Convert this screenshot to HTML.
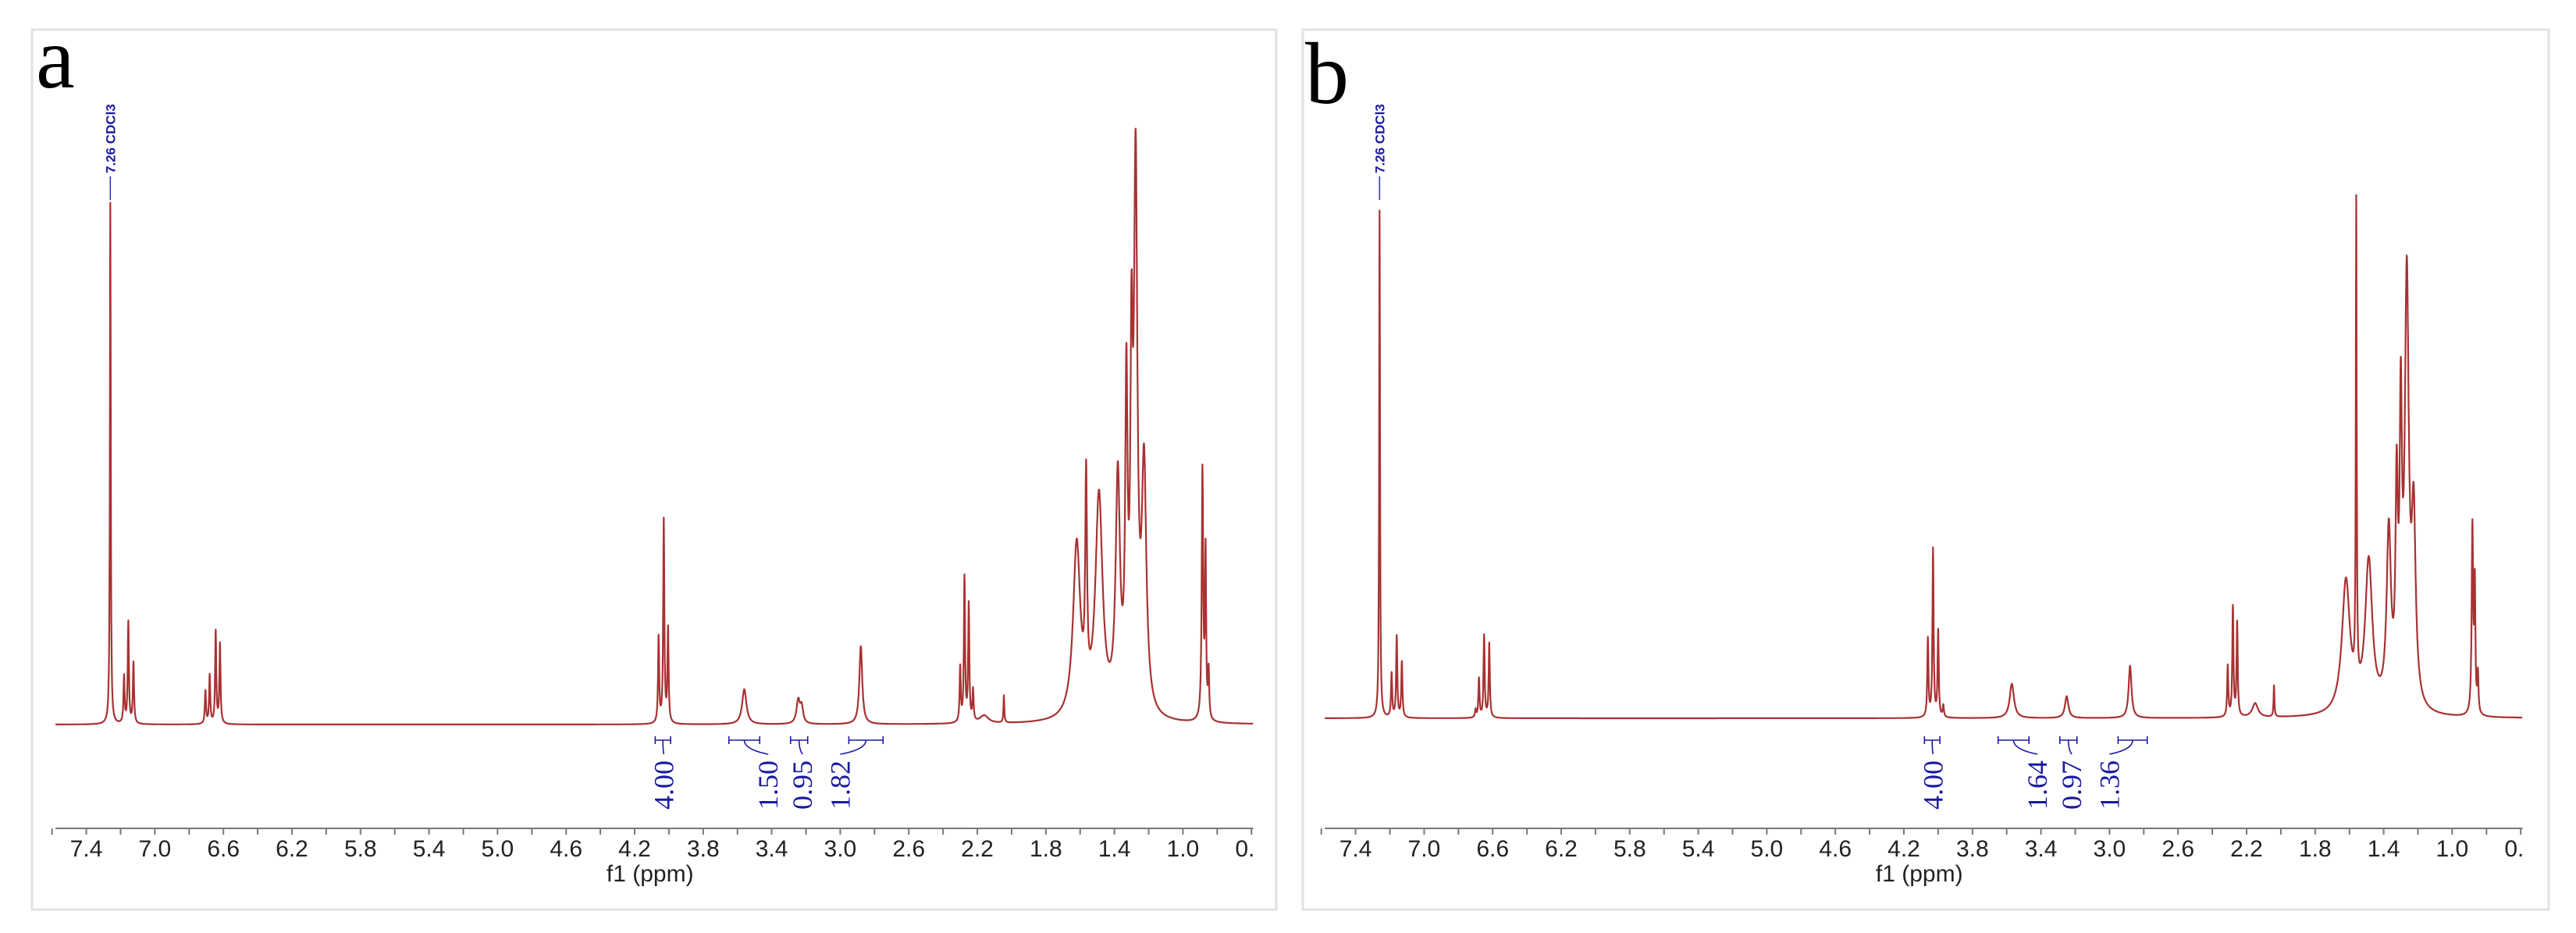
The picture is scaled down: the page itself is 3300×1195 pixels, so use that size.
<!DOCTYPE html>
<html><head><meta charset="utf-8">
<style>
html,body{margin:0;padding:0;background:#fff;}
svg{display:block;}
</style></head>
<body>
<svg id="fig" width="3300" height="1195" viewBox="0 0 3300 1195" xmlns="http://www.w3.org/2000/svg">
<defs>
<clipPath id="clipA"><rect x="40" y="30" width="1568" height="1140"/></clipPath>
<clipPath id="clipB"><rect x="1667" y="30" width="1568" height="1140"/></clipPath>
</defs>
<rect x="41" y="38" width="1594" height="1127" fill="#fff" stroke="#e2e2e2" stroke-width="3"/>
<rect x="1669" y="38" width="1596" height="1127" fill="#fff" stroke="#e2e2e2" stroke-width="3"/>
<text x="46" y="112" font-family="Liberation Serif, serif" font-size="112" fill="#000">a</text>
<text x="1672" y="132" font-family="Liberation Serif, serif" font-size="112" fill="#000">b</text>
<g id="layer"></g>
</svg>
<script>
// ---- data ----
const tickValues = [7.6,7.4,7.2,7.0,6.8,6.6,6.4,6.2,6.0,5.8,5.6,5.4,5.2,5.0,4.8,4.6,4.4,4.2,4.0,3.8,3.6,3.4,3.2,3.0,2.8,2.6,2.4,2.2,2.0,1.8,1.6,1.4,1.2,1.0,0.8,0.6];
const tickLabels = ["7.4","7.0","6.6","6.2","5.8","5.4","5.0","4.6","4.2","3.8","3.4","3.0","2.6","2.2","1.8","1.4","1.0","0.6"];
const tickLabelValues = [7.4,7.0,6.6,6.2,5.8,5.4,5.0,4.6,4.2,3.8,3.4,3.0,2.6,2.2,1.8,1.4,1.0,0.6];

const peaksA_ppm = [7.26,7.18,7.155,7.125,6.705,6.68,6.645,6.62,4.06,4.03,4.005,3.56,3.245,3.225,2.88,2.30,2.275,2.25,2.225,2.16,2.045,1.62,1.565,1.49,1.38,1.33,1.30,1.276,1.227,0.886,0.868,0.85];
const peaksA_h   = [668,60,130,78,42,62,118,102,110,260,120,45,30,20,100,70,185,150,40,10,35,222,269,281,295,391,390,675,308,320,210,60];
const peaksA_w   = [0.003,0.004,0.004,0.004,0.004,0.004,0.004,0.004,0.004,0.004,0.004,0.015,0.012,0.01,0.01,0.004,0.004,0.004,0.004,0.03,0.003,0.025,0.006,0.025,0.015,0.008,0.008,0.012,0.016,0.005,0.004,0.004];

const peaksB_ppm = [7.26,7.19,7.16,7.13,6.70,6.68,6.65,6.62,4.06,4.03,4.00,3.97,3.57,3.25,2.88,2.31,2.28,2.255,2.15,2.04,1.62,1.56,1.487,1.37,1.324,1.30,1.265,1.225,0.882,0.868,0.85];
const peaksB_h   = [650,56,104,71,10,50,105,95,100,215,110,15,44,28,67,65,140,120,18,40,170,616,192,222,256,341,538,232,240,160,50];
const peaksB_w   = [0.003,0.004,0.004,0.004,0.004,0.004,0.004,0.004,0.004,0.004,0.004,0.004,0.015,0.012,0.01,0.004,0.004,0.004,0.02,0.003,0.028,0.003,0.025,0.015,0.008,0.008,0.014,0.014,0.005,0.004,0.004];

const integralsA_values = ["4.00","1.50","0.95","1.82"];
const integralsA_from = [4.08,3.65,3.29,2.95];
const integralsA_to   = [3.99,3.47,3.19,2.75];
const integralsA_label = [4.03,3.42,3.22,3.00];
const integralsB_values = ["4.00","1.64","0.97","1.36"];
const integralsB_from = [4.08,3.65,3.29,2.95];
const integralsB_to   = [3.99,3.47,3.19,2.78];
const integralsB_label = [4.03,3.42,3.22,3.00];

// ---- drawing ----
const NS = "http://www.w3.org/2000/svg";
const layer = document.getElementById('layer');
function mk(tag, attrs, parent){const e=document.createElementNS(NS,tag);for(const k in attrs)e.setAttribute(k,attrs[k]);(parent||layer).appendChild(e);return e;}

function drawPanel(p){
  const xs = v => p.x0 + (4.2 - v) * 219.5;
  const ys = h => p.base - h;
  const g = mk('g',{});
  
  
  let d = '';
  for(let v=7.58; v>=0.59; v-=0.001){
    let s=0;
    for(let i=0;i<p.ppm.length;i++){const t=(v-p.ppm[i])/p.w[i];s+=p.h[i]/(1+t*t);}
    d += (d?'L':'M') + xs(v).toFixed(1) + ',' + ys(s).toFixed(1);
  }
  const path = mk('path',{d:d,fill:'none',stroke:'#a83232','stroke-width':'2.2','stroke-linejoin':'round'},g);
  
  
  const ax = mk('line',{x1:xs(7.58),x2:xs(0.59),y1:p.axisY,y2:p.axisY,stroke:'#777','stroke-width':'2'},g);
  
  
  tickValues.forEach(v=>{
    const t = mk('line',{x1:xs(v),x2:xs(v),y1:p.axisY,y2:p.axisY+8,stroke:'#777','stroke-width':'2'},g);
    
    
  });
  const lg = mk('g',{'clip-path':'url(#'+p.clip+')'},g);
  tickLabelValues.forEach((v,i)=>{
    const t = mk('text',{x:xs(v),y:p.axisY+36,'text-anchor':'middle','font-family':'Liberation Sans, sans-serif','font-size':'30',fill:'#222'},lg);
    t.textContent = tickLabels[i];
    
    
  });
  const xt = mk('text',{x:xs(4.11),y:p.axisY+68,'text-anchor':'middle','font-family':'Liberation Sans, sans-serif','font-size':'30',fill:'#222'},g);
  xt.textContent = 'f1 (ppm)';
  
  
  const sx = xs(7.26);
  const sl = mk('line',{x1:sx,x2:sx,y1:p.solvY+4,y2:p.solvY+34,stroke:'#2a2ab0','stroke-width':'1.5'},g);
  
  
  const st = mk('text',{transform:'translate('+(sx+6)+','+p.solvY+') rotate(-90)','font-family':'Liberation Sans, sans-serif','font-size':'17','font-weight':'bold',fill:'#1a1aa0'},g);
  st.textContent = '7.26 CDCl3';
  
  
  p.iv.forEach((val,i)=>{
    const x1=xs(p.ifrom[i]), x2=xs(p.ito[i]), lx=xs(p.ilab[i]);
    const ig = mk('g',{stroke:'#1a1aa0','stroke-width':'1.6',fill:'none'},g);
    
    
    mk('line',{x1:x1,x2:x2,y1:948,y2:948},ig);
    mk('line',{x1:x1,x2:x1,y1:943,y2:953},ig);
    mk('line',{x1:x2,x2:x2,y1:943,y2:953},ig);
    mk('path',{d:'M'+((x1+x2)/2)+',948 Q'+((x1+x2)/2)+',960 '+lx+',966'},ig);
    const t = mk('text',{transform:'translate('+(lx+12)+',1037) rotate(-90)','font-family':'Liberation Serif, serif','font-size':'36',fill:'#1a1aa0'},g);
    t.textContent = val;
    
    
  });
}
drawPanel({name:'panel-a',x0:813,base:928,axisY:1061,solvY:222,clip:'clipA',ppm:peaksA_ppm,h:peaksA_h,w:peaksA_w,iv:integralsA_values,ifrom:integralsA_from,ito:integralsA_to,ilab:integralsA_label});
drawPanel({name:'panel-b',x0:2439,base:920,axisY:1061,solvY:222,clip:'clipB',ppm:peaksB_ppm,h:peaksB_h,w:peaksB_w,iv:integralsB_values,ifrom:integralsB_from,ito:integralsB_to,ilab:integralsB_label});
</script>
</body></html>
